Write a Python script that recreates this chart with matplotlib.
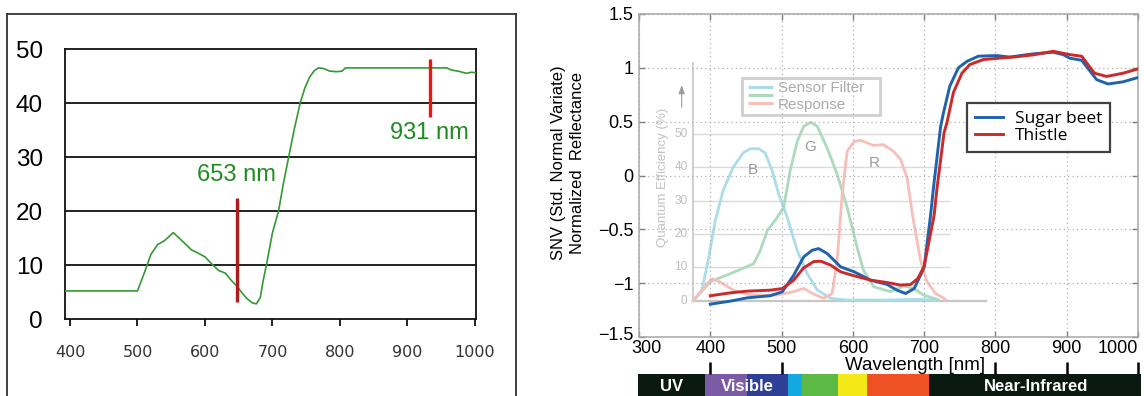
import matplotlib
matplotlib.use('Agg')
import matplotlib.pyplot as plt
import numpy as np
from matplotlib.lines import Line2D
from matplotlib.patches import Rectangle
from matplotlib.transforms import ScaledTranslation

# ---------------- data: left panel (reflectance %) ----------------
left_nm = [393, 500, 510, 520, 530, 540, 553, 560, 570, 580, 590, 600, 610, 620,
           630, 640, 648, 655, 662, 670, 676, 682, 686, 691, 700, 709, 716, 724,
           732, 741, 748, 755, 762, 768, 775, 785, 795, 803, 808, 850, 900, 958,
           965, 975, 987, 995, 1001]
left_refl = [5.2, 5.2, 8.5, 12.0, 13.8, 14.5, 16.0, 15.2, 14.0, 12.8, 12.2, 11.5,
             10.2, 9.0, 8.5, 7.0, 6.0, 4.8, 3.8, 3.0, 2.8, 4.0, 7.0, 10.0, 16.0,
             20.0, 25.0, 30.0, 35.0, 40.0, 42.8, 44.8, 46.0, 46.5, 46.4, 45.9,
             45.8, 45.9, 46.5, 46.5, 46.5, 46.5, 46.1, 45.9, 45.5, 45.7, 45.6]
left_xticks = [400, 500, 600, 700, 800, 900, 1000]
left_yticks = [0, 10, 20, 30, 40, 50]
marker_x = [647, 934]
marker_y0 = [3.1, 37.4]
marker_y1 = [22.4, 48.1]
marker_colors = ['#b01c1c', '#ee1515']
marker_labels = ['653 nm', '931 nm']
marker_label_x = [647, 932]
marker_label_y = [26.7, 34.4]

# ---------------- data: right panel (SNV) ----------------
beet_nm = [400, 428, 452, 484, 501, 517, 531, 543, 552, 564, 583, 602, 625, 648,
           662, 674, 686, 695, 700, 709, 713, 723, 727, 736, 748, 760, 776, 802,
           820, 853, 881, 895, 904, 921, 942, 958, 979, 1000]
beet_snv = [-1.195, -1.167, -1.136, -1.117, -1.08, -0.926, -0.756, -0.694, -0.679,
            -0.725, -0.849, -0.895, -0.972, -1.012, -1.065, -1.096, -1.05, -0.926,
            -0.85, -0.37, -0.12, 0.45, 0.58, 0.83, 1.0, 1.06, 1.108, 1.114, 1.10,
            1.13, 1.145, 1.123, 1.09, 1.07, 0.89, 0.85, 0.87, 0.91]
thistle_nm = [400, 428, 452, 484, 501, 517, 531, 545, 555, 569, 583, 602, 625, 648,
              667, 681, 691, 700, 714, 718, 728, 732, 741, 753, 764, 783, 806, 825,
              853, 881, 904, 921, 939, 956, 979, 1000]
thistle_snv = [-1.117, -1.09, -1.074, -1.065, -1.05, -0.972, -0.858, -0.80, -0.796,
               -0.833, -0.895, -0.932, -0.972, -0.994, -1.018, -1.012, -0.957,
               -0.845, -0.37, -0.12, 0.40, 0.49, 0.77, 0.95, 1.03, 1.077, 1.09,
               1.10, 1.12, 1.154, 1.123, 1.108, 0.95, 0.92, 0.95, 0.99]
right_xticks = [300, 400, 500, 600, 700, 800, 900, 1000]
right_yticks = [-1.5, -1.0, -0.5, 0.0, 0.5, 1.0, 1.5]
right_ytick_labels = ['\u22121.5', '\u22121', '\u22120.5', '0', '0.5', '1', '1.5']

# ---------------- data: faded sensor QE inset ----------------
qeB_nm = [376, 388, 397, 407, 418, 432, 446, 456, 468, 477, 487, 496, 508, 522,
          536, 550, 569, 592, 640, 690, 720]
qeB = [0, 3, 12, 24, 33, 40, 44.3, 45.6, 45.6, 44.3, 38.9, 31.9, 25, 15, 8.1, 3.2,
       0.7, 0.2, 0.2, 0.4, 0.2]
qeG_nm = [376, 400, 428, 461, 470, 480, 494, 503, 512, 522, 531, 541, 550, 564,
          578, 592, 606, 615, 629, 653, 671, 685, 699, 718]
qeG = [0, 5.7, 8.1, 11.1, 15, 21, 25, 28, 39, 47.8, 52.3, 53.5, 52.3, 45.8, 37.9,
       28, 16, 9.1, 4.2, 2.7, 4.4, 3.7, 1.7, 0.4]
qeR_nm = [376, 392, 402, 413, 432, 456, 494, 517, 531, 543, 559, 571, 578, 585,
          592, 602, 611, 620, 629, 643, 657, 667, 676, 685, 695, 704, 716, 730]
qeR = [0, 4.2, 6.6, 5.7, 3.2, 1.7, 1.7, 2.7, 3.7, 2.2, 0.7, 2.2, 12.1, 31.9, 44.8,
       47.8, 48.1, 47.3, 46.6, 46.8, 44.8, 42.4, 36.9, 24, 12.1, 5.7, 2.2, 0.4]
qe_yticks = [0, 10, 20, 30, 40, 50]
qe_letters = ['B', 'G', 'R']
qe_letter_x = [459.5, 540, 630]
qe_letter_y = [39.2, 46.0, 41.4]

# ---------------- data: spectrum bar ----------------
band_edges = [298, 392, 451, 509, 529, 579, 620, 707, 1005]
band_colors = ['#0b1a10', '#7b5aa6', '#2d3f97', '#14a8e0', '#5cb946', '#f4e817',
               '#ee5224', '#0b1a10']
band_labels = ['UV', 'Visible', 'Near-Infrared']
band_label_x = [346, 452, 857]
bar_ticks = [400, 500, 800, 900, 1000]

W, H = 1144, 396
fig = plt.figure(figsize=(W / 100, H / 100), dpi=100)
fig.patch.set_facecolor('white')


def fx(px):
    return px / W


def fy(py):
    return 1 - py / H


# ================= LEFT PANEL =================
for xs, ys in [([fx(7), fx(7)], [fy(14), 0]), ([fx(7), fx(516)], [fy(14), fy(14)]),
               ([fx(516), fx(516)], [fy(14), 0])]:
    fig.add_artist(Line2D(xs, ys, transform=fig.transFigure, color='#333333', lw=1.3))

axL = fig.add_axes([fx(65), fy(319), fx(476) - fx(65), fy(49) - fy(319)])
axL.set_xlim(392.6, 1001.5)
axL.set_ylim(0, 50)
for s in axL.spines.values():
    s.set_color('#111111')
    s.set_linewidth(1.3)
axL.tick_params(axis='y', length=0, pad=16)
axL.tick_params(axis='x', direction='out', length=5, width=1.3, color='#111111', pad=14)
axL.set_yticks(left_yticks)
axL.set_yticklabels([str(v) for v in left_yticks], family='Liberation Sans',
                    fontsize=17.5, color='black')
axL.set_xticks(left_xticks)
axL.set_xticklabels([str(v) for v in left_xticks], family='DejaVu Sans',
                    fontsize=11.5, color='#333333')
for v in [10, 20, 30, 40]:
    axL.axhline(v, color='#111111', lw=1.3, zorder=1)
axL.plot(left_nm, left_refl, color='#339933', lw=1.2, zorder=3)
for x, y0, y1, c in zip(marker_x, marker_y0, marker_y1, marker_colors):
    axL.plot([x, x], [y0, y1], color=c, lw=2.4, zorder=4, solid_capstyle='butt')
for t, x, y in zip(marker_labels, marker_label_x, marker_label_y):
    axL.text(x, y, t, color='#1f8c1f', fontsize=17, ha='center', va='center',
             family=['Liberation Sans Narrow', 'Liberation Sans'])

# ================= RIGHT PANEL =================
axR = fig.add_axes([fx(639), fy(337), fx(1138) - fx(639), fy(14) - fy(337)])
axR.set_xlim(300, 1000)
axR.set_ylim(-1.5, 1.5)
axR.patch.set_visible(False)

axQ = axR.twinx()
axQ.set_ylim(-10.89, 86.0)
axQ.set_zorder(axR.get_zorder() - 1)
axQ.axis('off')

# inset decorations (faded)
axQ.hlines(qe_yticks[1:], 376.2, 736.2, color='#dadada', lw=1.0)
axQ.hlines([0], 376.2, 788, color='#c6c6c6', lw=1.6)
axQ.vlines([376.2], 0, 71.7, color='#c6c6c6', lw=1.2)
for v in qe_yticks:
    axQ.text(368, v, str(v), fontsize=8.5, color='#bdbdbd', ha='right', va='center',
             family='Liberation Sans')
axQ.text(333.7, 37.1, 'Quantum Efficiency (%)', rotation=90, fontsize=9.5,
         color='#c2c2c2', ha='center', va='center', family='Liberation Sans')
axQ.annotate('', xy=(359.9, 65.5), xytext=(359.9, 57.2),
             arrowprops=dict(arrowstyle='-|>,head_length=0.5,head_width=0.18',
                             color='#9a9a9a', lw=0.8))
axQ.plot(qeB_nm, qeB, color='#acdcea', lw=2.0)
axQ.plot(qeG_nm, qeG, color='#acdabf', lw=2.0)
axQ.plot(qeR_nm, qeR, color='#f6bfbb', lw=2.0)
for t, x, y in zip(qe_letters, qe_letter_x, qe_letter_y):
    axQ.text(x, y, t, fontsize=11, color='#9a9a9a', ha='center', va='center',
             family='Liberation Sans')
axQ.add_patch(Rectangle((444.5, 55.7), 193.5, 11.1, facecolor='white',
                        edgecolor='#cfcfcf', lw=2.0))
for yy, c in zip([64.2, 61.7, 59.4], ['#acdcea', '#acdabf', '#f6bfbb']):
    axQ.plot([452.9, 488], [yy, yy], color=c, lw=2.2, solid_capstyle='butt')
axQ.text(495, 63.8, 'Sensor Filter', fontsize=11, color='#ababab', va='center',
         family='Liberation Sans')
axQ.text(495, 58.7, 'Response', fontsize=11, color='#ababab', va='center',
         family='Liberation Sans')

# main curves
axR.plot(beet_nm, beet_snv, color='#1f63ad', lw=2.1, label='Sugar beet', zorder=5)
axR.plot(thistle_nm, thistle_snv, color='#cc2a2a', lw=2.1, label='Thistle', zorder=6)

for s in axR.spines.values():
    s.set_color('#a8a8a8')
    s.set_linewidth(1.1)
axR.tick_params(axis='both', direction='in', length=4, width=1, color='#808080',
                top=True, right=True)
axR.tick_params(axis='x', pad=2)
axR.tick_params(axis='y', pad=4)
axR.set_xticks(right_xticks)
xl = axR.set_xticklabels([str(v) for v in right_xticks], family='Liberation Sans',
                         fontsize=13, color='black')
axR.set_yticks(right_yticks)
yl = axR.set_yticklabels(right_ytick_labels, family='Liberation Sans', fontsize=13,
                         color='black')
axR.grid(True, linestyle=(0, (1, 2.5)), color='#b0b0b0', lw=0.9)

axR.set_xlabel('Wavelength [nm]', family='Liberation Sans', fontsize=13.5,
               va='center')
axR.xaxis.set_label_coords((915 - 639) / 499, (337 - 366) / 323)
axR.set_ylabel('SNV (Std. Normal Variate)\nNormalized  Reflectance',
               family='Liberation Sans', fontsize=12, linespacing=1.35,
               ha='center', va='center')
axR.yaxis.set_label_coords((568 - 639) / 499, (337 - 163) / 323)

leg = axR.legend(loc='upper left', bbox_to_anchor=((967 - 639) / 499, (337 - 103) / 323),
                 prop={'family': 'Open Sans', 'size': 12.5}, frameon=True,
                 fancybox=False, edgecolor='#111111', handlelength=1.6,
                 handletextpad=0.7, labelspacing=0.05, borderpad=0.45,
                 borderaxespad=0)
leg.get_frame().set_linewidth(1.6)
leg.set_zorder(10)

# ================= SPECTRUM BAR =================
axB = fig.add_axes([fx(638), 0, fx(1141) - fx(638), 22 / H])
axB.set_xlim(300 - 1 / 0.7129, 300 + (1141 - 639) / 0.7129)
axB.set_ylim(0, 1)
axB.bar(band_edges[:-1], 1, width=np.diff(band_edges), align='edge',
        color=band_colors, linewidth=0)
axB.axis('off')
for t, x in zip(band_labels, band_label_x):
    axB.text(x, 0.45, t, color='white', fontsize=12, fontweight='bold',
             ha='center', va='center', family='Liberation Sans')
axB.vlines(bar_ticks, 1.0, 1.0 + 12 / 22, colors='black', lw=1.8, clip_on=False)

# nudge the corner tick labels like the original (after all tick_params calls)
fig.canvas.draw()
xtl = axR.xaxis.get_majorticklabels()
xtl[-1].set_horizontalalignment('right')
xtl[0].set_transform(xtl[0].get_transform() + ScaledTranslation(7 / 100, 0, fig.dpi_scale_trans))
ytl = axR.yaxis.get_majorticklabels()
ytl[0].set_transform(ytl[0].get_transform() + ScaledTranslation(0, 4 / 100, fig.dpi_scale_trans))

fig.savefig('out.png', dpi=100, facecolor='white')
